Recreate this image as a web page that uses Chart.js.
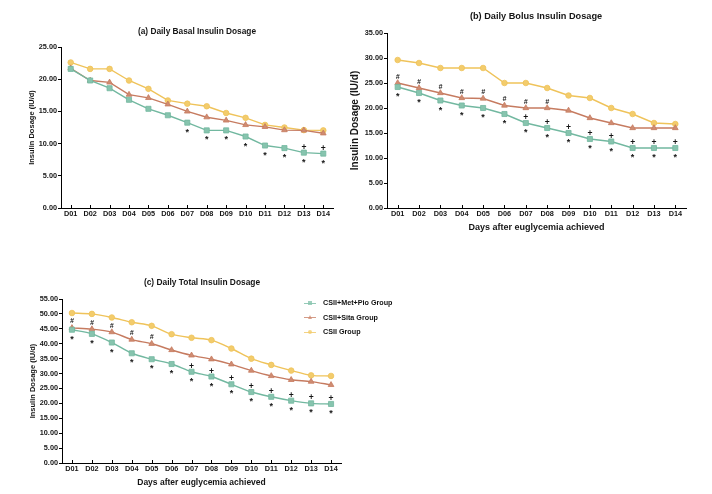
<!DOCTYPE html>
<html><head><meta charset="utf-8">
<script src="https://cdn.jsdelivr.net/npm/chart.js@4.4.1/dist/chart.umd.min.js"></script>
<style>
html,body{margin:0;padding:0;background:#fff;width:712px;height:494px;overflow:hidden;font-family:"Liberation Sans",Arial,sans-serif;}
canvas{position:absolute;left:0;top:0;}
.lg{position:absolute;left:304px;height:10px;font:bold 7.2px "Liberation Sans",Arial,sans-serif;color:#111;line-height:10px;white-space:nowrap;}
.lg .ln{position:absolute;left:0;top:4.5px;width:12px;height:1px;}
.lg .mk{position:absolute;}
.lg .tx{position:absolute;left:19px;top:0;}
</style></head><body>
<canvas id="ca" width="712" height="494"></canvas>
<canvas id="cb" width="712" height="494"></canvas>
<canvas id="cc" width="712" height="494"></canvas>
<div id="legend"></div>
<script>
const days = ['D01','D02','D03','D04','D05','D06','D07','D08','D09','D10','D11','D12','D13','D14'];
const groups = ['CSII+Met+Pio Group','CSII+Sita Group','CSII Group'];

const basalMetPio = [21.6,19.8,18.6,16.8,15.4,14.4,13.25,12.05,12.05,11.1,9.7,9.3,8.6,8.45];
const basalSita   = [21.7,19.8,19.5,17.6,17.1,16.1,15.0,14.1,13.6,12.9,12.6,12.1,12.05,11.6];
const basalCSII   = [22.6,21.6,21.6,19.8,18.5,16.7,16.2,15.8,14.75,14.0,12.9,12.5,12.1,12.05];

const bolusMetPio = [24.2,23.0,21.5,20.5,20.0,18.8,17.0,16.0,15.0,13.8,13.3,12.0,12.0,12.0];
const bolusSita   = [25.0,24.0,23.0,22.0,21.9,20.5,20.0,20.0,19.5,18.0,17.0,16.0,16.0,16.0];
const bolusCSII   = [29.6,29.0,28.0,28.0,28.0,25.0,25.0,24.0,22.5,22.0,20.0,18.8,17.0,16.8];

const totalMetPio = [44.7,43.3,40.4,36.8,34.8,33.2,30.6,29.0,26.4,23.8,22.2,20.9,20.0,19.8];
const totalSita   = [45.3,44.9,43.9,41.4,40.0,37.9,36.1,34.8,33.1,31.0,29.2,27.9,27.3,26.2];
const totalCSII   = [50.3,50.0,48.8,47.2,46.0,43.2,42.0,41.2,38.4,35.0,32.9,31.0,29.4,29.2];

// significance marks (day indices)
const basalStar = [6,7,8,9,10,11,12,13];
const basalPlus = [12,13];
const basalHash = [];
const bolusStar = [0,1,2,3,4,5,6,7,8,9,10,11,12,13];
const bolusPlus = [6,7,8,9,10,11,12,13];
const bolusHash = [0,1,2,3,4,5,6,7];
const totalStar = [0,1,2,3,4,5,6,7,8,9,10,11,12,13];
const totalPlus = [6,7,8,9,10,11,12,13];
const totalHash = [0,1,2,3,4];

const titles = ['(a) Daily Basal Insulin Dosage','(b) Daily Bolus Insulin Dosage','(c) Daily Total Insulin Dosage'];
const yTitle = 'Insulin Dosage (IU/d)';
const xTitle = 'Days after euglycemia achieved';

const COLORS = [
  {line:'#72b8a0', fill:'#87c4ae', style:'rect', r:3.6},
  {line:'#c67b60', fill:'#cf8c72', style:'triangle', r:3.3},
  {line:'#efc35a', fill:'#f3cc6c', style:'circle', r:2.8}
];
const FONT = '"Liberation Sans", Arial, sans-serif';
const INK = '#151515';

const marksPlugin = {
  id: 'marks',
  afterDatasetsDraw(chart, args, o) {
    const ctx = chart.ctx, xs = chart.scales.x, ys = chart.scales.y;
    const ds = chart.data.datasets;
    ctx.save();
    ctx.fillStyle = INK;
    ctx.textAlign = 'center';
    ctx.textBaseline = 'alphabetic';
    const put = (list, di, glyph, font, dy) => {
      ctx.font = font;
      list.forEach(i => {
        const px = xs.getPixelForValue(i);
        const py = ys.getPixelForValue(ds[di].data[i]);
        ctx.fillText(glyph, px, py + dy);
      });
    };
    put(o.star, 0, '*', 'bold 9px ' + FONT, 12);
    put(o.plus, 0, '+', 'bold 8.5px ' + FONT, -3);
    put(o.hash, 1, '#', 'italic bold 7px ' + FONT, -4.5);
    // inner ticks on x axis
    ctx.strokeStyle = '#000'; ctx.lineWidth = 1;
    xs.ticks.forEach((t, i) => {
      const px = Math.round(xs.getPixelForTick(i)) + 0.5;
      ctx.beginPath(); ctx.moveTo(px, xs.top); ctx.lineTo(px, xs.top - 3); ctx.stroke();
    });
    // chart title
    ctx.font = 'bold ' + o.titleSize + 'px ' + FONT;
    ctx.textBaseline = 'middle';
    ctx.fillText(o.title, o.titleX, o.titleY);
    ctx.restore();
  }
};

function makeChart(id, series, cfg) {
  const datasets = series.map((d, k) => ({
    label: groups[k], data: d,
    borderColor: COLORS[k].line, backgroundColor: COLORS[k].fill,
    pointBackgroundColor: COLORS[k].fill, pointBorderColor: COLORS[k].line,
    pointBorderWidth: 0.8, pointStyle: COLORS[k].style, pointRadius: COLORS[k].r,
    borderWidth: 1.4, tension: cfg.tension, fill: false
  }));
  return new Chart(document.getElementById(id), {
    type: 'line',
    data: { labels: days, datasets },
    plugins: [marksPlugin],
    options: {
      responsive: false, animation: false, devicePixelRatio: 1,
      layout: { padding: cfg.pad },
      plugins: {
        legend: { display: false }, tooltip: { enabled: false },
        marks: cfg.marks
      },
      scales: {
        x: {
          type: 'category', offset: true,
          grid: { display: true, drawOnChartArea: false, drawTicks: false, tickLength: 0, color: '#000' },
          border: { display: true, color: '#000', width: 1 },
          ticks: { color: INK, font: { family: FONT, size: 7.3, weight: 'bold' }, padding: 2, maxRotation: 0, autoSkip: false },
          title: { display: !!cfg.xTitleSize, text: xTitle, color: INK, padding: 0,
                   font: { family: FONT, size: cfg.xTitleSize || 9, weight: 'bold' } },
          afterFit: s => { s.height = cfg.xh; }
        },
        y: {
          min: 0, max: cfg.max,
          grid: { display: true, drawOnChartArea: false, drawTicks: true, tickLength: 3, color: '#000' },
          border: { display: true, color: '#000', width: 1 },
          ticks: { stepSize: 5, color: INK, padding: 1, font: { family: FONT, size: 7.3, weight: 'bold' },
                   callback: v => Number(v).toFixed(2) },
          title: { display: true, text: yTitle, color: INK, padding: 0,
                   font: { family: FONT, size: cfg.yTitleSize, weight: 'bold' } },
          afterFit: s => { s.width = cfg.yw; }
        }
      }
    }
  });
}

makeChart('ca', [basalMetPio, basalSita, basalCSII], {
  max: 25, tension: 0, yw: 34, xh: 12, yTitleSize: 7.5, xTitleSize: 0,
  pad: { left: 27, right: 379, top: 47, bottom: 274 },
  marks: { star: basalStar, plus: basalPlus, hash: basalHash, title: titles[0], titleSize: 8.3, titleX: 197, titleY: 32 }
});
makeChart('cb', [bolusMetPio, bolusSita, bolusCSII], {
  max: 35, tension: 0, yw: 38, xh: 25, yTitleSize: 10, xTitleSize: 9,
  pad: { left: 349, right: 26, top: 33, bottom: 261 },
  marks: { star: bolusStar, plus: bolusPlus, hash: bolusHash, title: titles[1], titleSize: 9.2, titleX: 536, titleY: 16 }
});
makeChart('cc', [totalMetPio, totalSita, totalCSII], {
  max: 55, tension: 0.3, yw: 34, xh: 25, yTitleSize: 7.5, xTitleSize: 8.5,
  pad: { left: 28, right: 371, top: 299, bottom: 6 },
  marks: { star: totalStar, plus: totalPlus, hash: totalHash, title: titles[2], titleSize: 8.4, titleX: 202, titleY: 283 }
});

// HTML legend
const legend = document.getElementById('legend');
const rowsY = [298, 312.5, 327];
groups.forEach((g, k) => {
  const row = document.createElement('div');
  row.className = 'lg';
  row.style.top = rowsY[k] + 'px';
  const ln = document.createElement('div'); ln.className = 'ln';
  ln.style.background = COLORS[k].line; ln.style.opacity = '0.75';
  const mk = document.createElement('div'); mk.className = 'mk';
  if (k === 0) { Object.assign(mk.style, {left:'4px', top:'2.5px', width:'4px', height:'4px', background: COLORS[k].fill}); }
  else if (k === 1) { Object.assign(mk.style, {left:'4px', top:'2px', width:'0', height:'0', borderLeft:'2.5px solid transparent', borderRight:'2.5px solid transparent', borderBottom:'4.5px solid ' + COLORS[k].fill}); }
  else { Object.assign(mk.style, {left:'4px', top:'2.5px', width:'4px', height:'4px', borderRadius:'50%', background: COLORS[k].fill}); }
  mk.style.opacity = '0.8';
  const tx = document.createElement('div'); tx.className = 'tx'; tx.textContent = g;
  row.appendChild(ln); row.appendChild(mk); row.appendChild(tx);
  legend.appendChild(row);
});
</script>
</body></html>
